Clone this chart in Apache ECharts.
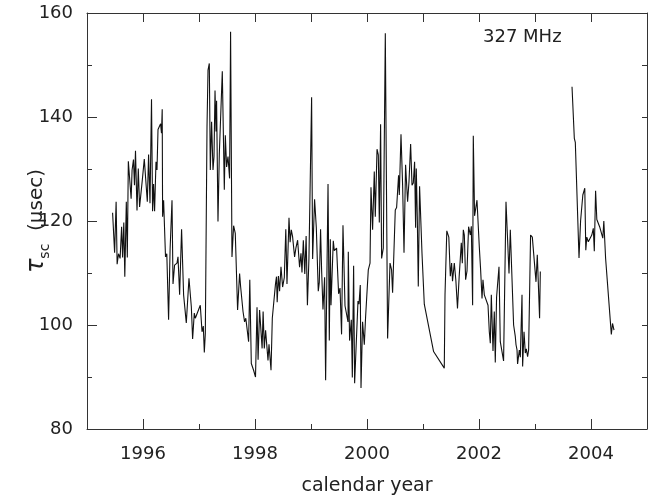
<!DOCTYPE html>
<html>
<head>
<meta charset="utf-8">
<script src="https://cdn.jsdelivr.net/npm/echarts@6/dist/echarts.min.js"></script>
<style>
    html, body { margin: 0; padding: 0; background: #fff; }
    #chart { width: 662px; height: 496px; }
</style>
</head>
<body>
<div id="chart"></div>
<script>
// 观测时间（年）与散射时间 tau_sc (usec)，null 处断开
var years = [
    1995.457, 1995.493, 1995.520, 1995.538, 1995.563, 1995.591, 1995.618, 1995.636, 1995.657, 1995.675,
    1995.702, 1995.720, 1995.738, 1995.768, 1995.788, 1995.805, 1995.830, 1995.848, 1995.866, 1995.893,
    1995.916, 1995.939, 1995.988, 1996.023, 1996.054, 1996.077, 1996.100, 1996.125, 1996.152, 1996.171,
    1996.189, 1996.207, 1996.232, 1996.250, 1996.268, 1996.296, 1996.314, 1996.330, 1996.343, 1996.350,
    1996.368, 1996.402, 1996.425, 1996.457, 1996.484, 1996.518, 1996.536, 1996.564, 1996.607, 1996.625,
    1996.654, 1996.689, 1996.725, 1996.750, 1996.773, 1996.821, 1996.863, 1996.886, 1996.916, 1996.934,
    1997.023, 1997.054, 1997.077, 1997.095, 1997.113, 1997.143, 1997.161, 1997.184, 1997.202, 1997.225,
    1997.250, 1997.268, 1997.286, 1997.304, 1997.314, 1997.339, 1997.363, 1997.386, 1997.416, 1997.452,
    1997.470, 1997.493, 1997.518, 1997.546, 1997.564, 1997.589, 1997.618, 1997.648, 1997.689, 1997.725,
    1997.743, 1997.786, 1997.814, 1997.836, 1997.857, 1997.886, 1997.907, 1997.934, 1997.975, 1998.009,
    1998.036, 1998.055, 1998.082, 1998.109, 1998.127, 1998.145, 1998.166, 1998.189, 1998.214, 1998.232,
    1998.250, 1998.286, 1998.309, 1998.336, 1998.366, 1998.384, 1998.396, 1998.418, 1998.439, 1998.464,
    1998.493, 1998.523, 1998.550, 1998.571, 1998.607, 1998.627, 1998.648, 1998.671, 1998.707, 1998.732,
    1998.761, 1998.796, 1998.821, 1998.839, 1998.863, 1998.889, 1998.913, 1998.936, 1998.963, 1999.011,
    1999.029, 1999.064, 1999.095, 1999.118, 1999.130, 1999.148, 1999.171, 1999.189, 1999.214, 1999.243,
    1999.261, 1999.304, 1999.327, 1999.345, 1999.357, 1999.398, 1999.416, 1999.457, 1999.493, 1999.518,
    1999.546, 1999.571, 1999.607, 1999.636, 1999.661, 1999.666, 1999.689, 1999.720, 1999.738, 1999.761,
    1999.779, 1999.839, 1999.857, 1999.880, 1999.893, 1999.921, 1999.952, 1999.975, 2000.023, 2000.054,
    2000.071, 2000.100, 2000.130, 2000.148, 2000.179, 2000.202, 2000.220, 2000.243, 2000.261, 2000.291,
    2000.327, 2000.368, 2000.411, 2000.439, 2000.457, 2000.505, 2000.529, 2000.564, 2000.577, 2000.607,
    2000.636, 2000.661, 2000.689, 2000.725, 2000.750, 2000.779, 2000.804, 2000.827, 2000.850, 2000.868,
    2000.880, 2000.898, 2000.916, 2000.939, 2000.982, 2001.023, 2001.189, 2001.380, 2001.393, 2001.425,
    2001.461, 2001.488, 2001.511, 2001.527, 2001.559, 2001.586, 2001.616, 2001.646, 2001.684, 2001.702,
    2001.720, 2001.738, 2001.761, 2001.786, 2001.814, 2001.845, 2001.863, 2001.886, 2001.898, 2001.921,
    2001.939, 2001.964, 2002.005, 2002.029, 2002.054, 2002.071, 2002.095, 2002.161, 2002.184, 2002.202,
    2002.220, 2002.250, 2002.273, 2002.291, 2002.314, 2002.357, 2002.380, 2002.439, 2002.482, 2002.511,
    2002.536, 2002.559, 2002.618, 2002.648, 2002.661, 2002.679, 2002.689, 2002.720, 2002.738, 2002.768,
    2002.779, 2002.804, 2002.827, 2002.845, 2002.868, 2002.886, 2002.895, 2002.907, 2002.921, 2002.952,
    2003.018, 2003.041, 2003.082, 2003.095, 2003.400, 2003.661, 2003.702, 2003.720, 2003.786, 2003.814,
    2003.854, 2003.889, 2003.907, 2003.925, 2003.952, 2004.014, 2004.041, 2004.059, 2004.082, 2004.104,
    2004.154, 2004.211, 2004.229, 2004.261, 2004.363, 2004.384, 2004.411
];
var tau = [
    121.6, 113.9, 123.7, 111.7, 113.7, 112.8, 118.9, 113.0, 119.7, 109.3,
    123.7, 113.0, 131.5, 131.4, 124.3, 129.8, 131.8, 126.9, 133.5, 122.0,
    130.1, 122.7, 127.9, 131.9, 131.7, 123.7, 132.8, 123.4, 143.4, 121.9,
    127.1, 121.9, 131.4, 129.8, 137.6, 137.8, 138.7, 136.9, 141.5, 120.8,
    124.0, 113.1, 113.7, 101.0, 114.6, 124.0, 107.9, 111.5, 111.9, 113.1,
    105.8, 118.4, 105.8, 105.6, 100.4, 109.0, 103.5, 97.3, 102.3, 101.3,
    103.8, 98.7, 99.8, 94.7, 98.4, 138.1, 149.0, 150.3, 129.8, 139.1,
    129.8, 132.4, 145.1, 137.2, 143.1, 119.9, 133.0, 132.9, 148.8, 126.0,
    136.5, 130.4, 132.4, 128.2, 156.4, 113.1, 119.1, 117.6, 102.9, 109.9,
    107.4, 102.6, 100.6, 101.3, 99.4, 96.8, 108.7, 92.6, 91.3, 90.0,
    103.4, 93.3, 102.9, 102.6, 95.5, 102.6, 95.5, 99.0, 98.7, 93.2,
    96.3, 91.3, 101.3, 101.3, 107.9, 109.3, 104.4, 109.4, 106.5, 111.2,
    107.3, 109.1, 118.4, 107.9, 120.6, 115.9, 118.3, 117.0, 113.1, 114.9,
    116.3, 111.1, 113.8, 110.1, 116.3, 109.8, 117.1, 103.8, 112.8, 143.8,
    112.7, 124.2, 118.7, 118.6, 106.5, 108.2, 118.4, 110.7, 103.0, 109.2,
    89.4, 127.1, 97.0, 116.5, 103.8, 116.2, 114.3, 114.8, 106.0, 107.1,
    98.2, 119.2, 103.7, 103.7, 100.6, 114.1, 97.0, 101.0, 89.9, 111.4,
    88.8, 104.6, 104.0, 107.7, 87.9, 100.6, 96.2, 101.6, 110.6, 111.9,
    126.5, 118.3, 129.5, 120.8, 133.8, 132.7, 119.7, 138.6, 112.8, 114.8,
    156.1, 97.4, 111.9, 110.6, 106.2, 122.1, 122.6, 128.8, 125.0, 136.7,
    126.9, 113.9, 130.8, 123.7, 127.6, 134.8, 126.9, 127.3, 131.4, 118.7,
    130.1, 120.8, 107.4, 126.7, 113.8, 104.0, 94.9, 91.7, 105.8, 118.1,
    116.9, 109.4, 111.9, 108.4, 111.9, 108.7, 103.2, 109.3, 115.8, 111.9,
    118.3, 117.3, 108.7, 110.4, 118.9, 117.3, 119.0, 103.8, 136.4, 121.0,
    120.8, 124.0, 115.1, 110.6, 105.1, 108.7, 105.8, 103.8, 98.7, 96.5,
    105.8, 95.0, 102.6, 92.8, 105.4, 111.2, 96.8, 93.1, 123.7, 116.3,
    109.9, 118.3, 100.0, 97.8, 96.2, 95.2, 92.5, 95.2, 93.8, 105.8,
    92.0, 98.7, 94.6, 95.4, 93.9, 95.2, 94.9, 108.3, 117.3, 116.9,
    108.3, 113.5, 101.3, 110.3, null, 145.8, 135.9, 135.1, 112.9, 120.0,
    125.0, 126.3, 114.4, 116.9, 116.0, 117.3, 118.6, 114.2, 125.8, 120.3,
    118.9, 116.7, 120.0, 112.8, 98.2, 100.3, 99.0
];
// 刻度
var majorYears = [1996, 1998, 2000, 2002, 2004];
var minorYears = [1995, 1997, 1999, 2001, 2003, 2005];
var bandLabel = '327 MHz';

var FONT = 'DejaVu Sans';
var AXIS_COLOR = '#333';
var TEXT_COLOR = '#222';

var chart = echarts.init(document.getElementById('chart'), null, {renderer: 'canvas'});

var seriesData = years.map(function (y, i) {
    return [y, tau[i] === null ? '-' : tau[i]];
});

var option = {
    backgroundColor: '#fff',
    animation: false,
    title: {
        text: bandLabel,
        left: 478,
        top: 23,
        textStyle: {
            fontFamily: FONT,
            fontSize: 18,
            fontWeight: 'normal',
            color: TEXT_COLOR
        }
    },
    grid: {
        left: 87,
        right: 15,
        top: 13,
        bottom: 67,
        outerBoundsMode: 'none'
    },
    xAxis: [
        {
            type: 'value',
            min: 1995,
            max: 2005,
            interval: 1,
            position: 'bottom',
            splitLine: {show: false},
            axisLine: {lineStyle: {color: AXIS_COLOR, width: 1}},
            axisTick: {
                inside: true,
                length: 10,
                customValues: majorYears,
                lineStyle: {color: AXIS_COLOR}
            },
            axisLabel: {
                customValues: majorYears,
                formatter: function (v) { return String(v); },
                margin: 16,
                fontFamily: FONT,
                fontSize: 18,
                color: TEXT_COLOR
            },
            name: 'calendar year',
            nameLocation: 'middle',
            nameGap: 48,
            nameTextStyle: {
                fontFamily: FONT,
                fontSize: 19,
                color: TEXT_COLOR
            }
        },
        {
            type: 'value',
            min: 1995,
            max: 2005,
            interval: 1,
            position: 'bottom',
            splitLine: {show: false},
            axisLine: {show: false},
            axisTick: {
                inside: true,
                length: 5,
                customValues: minorYears,
                lineStyle: {color: AXIS_COLOR}
            },
            axisLabel: {show: false}
        },
        {
            type: 'value',
            min: 1995,
            max: 2005,
            interval: 1,
            position: 'top',
            splitLine: {show: false},
            axisLine: {lineStyle: {color: AXIS_COLOR, width: 1}},
            axisTick: {
                inside: true,
                length: 9,
                lineStyle: {color: AXIS_COLOR}
            },
            axisLabel: {show: false}
        }
    ],
    yAxis: [
        {
            type: 'value',
            min: 80,
            max: 160,
            interval: 20,
            position: 'left',
            splitLine: {show: false},
            axisLine: {show: true, lineStyle: {color: AXIS_COLOR, width: 1}},
            axisTick: {
                show: true,
                inside: true,
                length: 10,
                lineStyle: {color: AXIS_COLOR}
            },
            minorTick: {
                show: true,
                splitNumber: 2,
                length: 5,
                lineStyle: {color: AXIS_COLOR}
            },
            minorSplitLine: {show: false},
            axisLabel: {
                margin: 14,
                fontFamily: FONT,
                fontSize: 18,
                color: TEXT_COLOR
            },
            name: '{t|τ}{s|sc}{n|  (μsec)}',
            nameLocation: 'middle',
            nameRotate: 90,
            nameGap: 35,
            nameMoveOverlap: false,
            nameTextStyle: {
                rich: {
                    t: {fontFamily: FONT, fontSize: 24, fontStyle: 'italic', color: TEXT_COLOR, lineHeight: 30},
                    s: {fontFamily: FONT, fontSize: 14, color: TEXT_COLOR, lineHeight: 14, verticalAlign: 'bottom'},
                    n: {fontFamily: FONT, fontSize: 20, color: TEXT_COLOR, lineHeight: 30}
                }
            }
        },
        {
            type: 'value',
            min: 80,
            max: 160,
            interval: 10,
            position: 'right',
            splitLine: {show: false},
            axisLine: {show: true, lineStyle: {color: AXIS_COLOR, width: 1}},
            axisTick: {
                show: true,
                inside: true,
                length: 5,
                lineStyle: {color: AXIS_COLOR}
            },
            axisLabel: {show: false}
        }
    ],
    series: [
        {
            name: 'tau_sc',
            type: 'line',
            xAxisIndex: 0,
            yAxisIndex: 0,
            data: seriesData,
            showSymbol: false,
            symbol: 'none',
            connectNulls: false,
            lineStyle: {color: '#111', width: 1.1},
            z: 1
        }
    ]
};

chart.setOption(option);
</script>
</body>
</html>
